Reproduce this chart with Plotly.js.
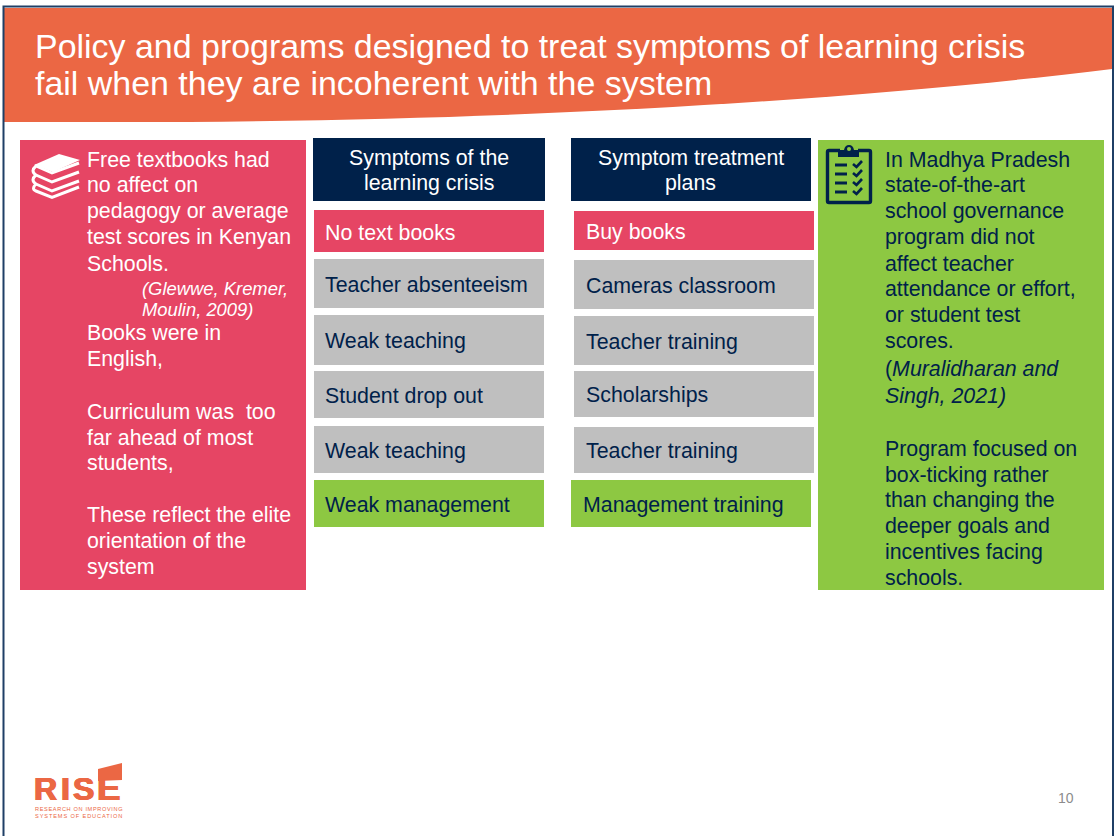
<!DOCTYPE html>
<html>
<head>
<meta charset="utf-8">
<script src="https://cdn.plot.ly/plotly-3.0.1.min.js"></script>
<style>html,body{margin:0;padding:0;background:#fff;overflow:hidden}#g{width:1115px;height:836px}</style>
</head>
<body>
<div id="g"></div>
<script>
const titleLines = ["Policy and programs designed to treat symptoms of learning crisis", "fail when they are incoherent with the system"];
const symptomHeader = ["Symptoms of the", "learning crisis"];
const treatmentHeader = ["Symptom treatment", "plans"];
const symptoms = ["No text books", "Teacher absenteeism", "Weak teaching", "Student drop out", "Weak teaching", "Weak management"];
const treatments = ["Buy books", "Cameras classroom", "Teacher training", "Scholarships", "Teacher training", "Management training"];
const leftText = ["Free textbooks had", "no affect on", "pedagogy or average", "test scores in Kenyan", "Schools.", "(Glewwe, Kremer,", "Moulin, 2009)", "Books were in", "English,", "Curriculum was  too", "far ahead of most", "students,", "These reflect the elite", "orientation of the", "system"];
const rightText = ["In Madhya Pradesh", "state-of-the-art", "school governance", "program did not", "affect teacher", "attendance or effort,", "or student test", "scores.", "(<i>Muralidharan and</i>", "<i>Singh, 2021)</i>", "Program focused on", "box-ticking rather", "than changing the", "deeper goals and", "incentives facing", "schools."];
const logoLetters = ["R", "I", "S", "E"];
const logoTagline = ["RESEARCH ON IMPROVING", "SYSTEMS OF EDUCATION"];
const pageNumber = "10";

const ORANGE = "#EB6744", PINK = "#E64564", NAVY = "#00214A", GREY = "#BFBFBF", GREEN = "#8DC842";
const FONT = "Liberation Sans, Arial, sans-serif";

const shapes = [];
const annotations = [];
function rect(x0, y0, x1, y1, color) {
  shapes.push({type: "rect", xref: "x", yref: "y", x0, y0, x1, y1, fillcolor: color, line: {width: 0}, layer: "below"});
}
function path(d, fill, stroke, w) {
  shapes.push({type: "path", xref: "x", yref: "y", path: d, fillcolor: fill || "rgba(0,0,0,0)",
    line: stroke ? {color: stroke, width: w} : {width: 0}, layer: "below"});
}
function text(x, y, t, size, color, anchor, fontExtra) {
  annotations.push({xref: "x", yref: "y", x, y, text: t, showarrow: false, xanchor: anchor || "left",
    yanchor: "middle", borderpad: 0, font: Object.assign({family: FONT, size, color}, fontExtra || {})});
}

// slide frame and title banner
path("M4 8 L1112 8 L1112 69 C900 95 560 122 120 122 L4 122 Z", ORANGE);
path("M3.5 836 L3.5 6.5 L1113 6.5 L1113 836", null, "#1F3F66", 2);
text(34, 46, titleLines[0], 33.95, "#FFFFFF");
text(34, 83, titleLines[1], 33.95, "#FFFFFF");

// side panels
rect(20, 140, 306, 590, PINK);
rect(818, 140, 1104, 590, GREEN);
const leftY = [160, 185, 211, 237, 264, 288, 309, 333, 359, 412, 438, 463, 515, 541, 567];
leftText.forEach((t, i) => {
  if (i === 5 || i === 6) text(140.5, leftY[i], "<i>" + t + "</i>", 18.4, "#FFFFFF");
  else text(85.5, leftY[i], t, 21.35, "#FFFFFF");
});
const rightY = [160, 185, 211, 237, 264, 289, 315, 341, 369, 396, 449, 475, 500, 526, 552, 578];
rightText.forEach((t, i) => text(883.5, rightY[i], t, 21.35, NAVY));

// headers
rect(313, 138, 545, 201, NAVY);
rect(571, 138, 811, 201, NAVY);
text(428.5, 158, symptomHeader[0], 21.35, "#FFFFFF", "center");
text(428.5, 183, symptomHeader[1], 21.35, "#FFFFFF", "center");
text(690.5, 158, treatmentHeader[0], 21.35, "#FFFFFF", "center");
text(690.5, 183, treatmentHeader[1], 21.35, "#FFFFFF", "center");

// symptom and treatment rows
const rowColors = [PINK, GREY, GREY, GREY, GREY, GREEN];
const rowTextColors = ["#FFFFFF", NAVY, NAVY, NAVY, NAVY, NAVY];
const symTop = [210, 259, 315, 371, 426, 480], symBottom = [252, 308, 365, 418, 473, 527];
const trtTop = [211, 260, 316, 371, 427, 480], trtBottom = [250, 309, 365, 417, 473, 527];
const trtLeft = [574, 574, 574, 574, 574, 571], trtRight = [814, 814, 814, 814, 814, 811];
symptoms.forEach((t, i) => {
  rect(314, symTop[i], 544, symBottom[i], rowColors[i]);
  text(324, (symTop[i] + symBottom[i]) / 2 + (i === 0 ? 2 : 1), t, 21.35, rowTextColors[i]);
});
treatments.forEach((t, i) => {
  rect(trtLeft[i], trtTop[i], trtRight[i], trtBottom[i], rowColors[i]);
  text(trtLeft[i] + 10.5, (trtTop[i] + trtBottom[i]) / 2 + 1, t, 21.35, rowTextColors[i]);
});

// book stack icon
path("M34 165 L59 154 L80 160 L53 172 Z", "#FFFFFF");
path("M79 163 L52 173 L36 166 Q30 171 36 175 L52 182 L79 172", null, "#FFFFFF", 3);
path("M36 175 Q30 180 36 184 L52 191 L79 181", null, "#FFFFFF", 3);
path("M36 184 Q31 189 36 191 L52 197.5 L79 187", null, "#FFFFFF", 3);

// clipboard icon
path("M840 150.5 L829 150.5 Q827.5 150.5 827.5 152 L827.5 201 Q827.5 202.5 829 202.5 L869 202.5 Q870.5 202.5 870.5 201 L870.5 152 Q870.5 150.5 869 150.5 L858 150.5", null, NAVY, 3.4);
path("M838 157 L838 150 L844 150 Q845 145 849 145 Q853 145 854 150 L859 150 L859 157 Z", NAVY);
shapes.push({type: "circle", xref: "x", yref: "y", x0: 847, y0: 147, x1: 851, y1: 151, fillcolor: GREEN, line: {width: 0}, layer: "below"});
[165, 174, 183, 192].forEach(y => {
  path(`M835 ${y} L847 ${y}`, null, NAVY, 3);
  path(`M853 ${y - 1} L856.5 ${y + 2} L862 ${y - 4}`, null, NAVY, 2.6);
});

// RISE logo
const logoX = [33, 60, 71.5, 95.5];
const logoY = [788.5, 788.5, 788.5, 787.4];
const logoSize = [32, 32, 32, 35];
const logoBold = {weight: 700, shadow: "0.7px 0 0 #EB6744, -0.7px 0 0 #EB6744, 0 0.4px 0 #EB6744"};
logoLetters.forEach((t, i) => text(logoX[i], logoY[i], t, logoSize[i], ORANGE, "left", logoBold));
path("M98 769 L122 763 L122 780 L98 781 Z", ORANGE);
text(33.5, 808.5, '<span style="letter-spacing:0.65px">' + logoTagline[0] + "</span>", 5.6, ORANGE);
text(33.5, 816, '<span style="letter-spacing:0.9px">' + logoTagline[1] + "</span>", 5.6, ORANGE);

// page number
text(1066, 798, pageNumber, 14, "#8C8C8C", "center");

Plotly.newPlot("g", [], {
  width: 1115, height: 836,
  margin: {l: 0, r: 0, t: 0, b: 0},
  paper_bgcolor: "#FFFFFF", plot_bgcolor: "#FFFFFF",
  xaxis: {range: [0, 1115], visible: false, fixedrange: true},
  yaxis: {range: [836, 0], visible: false, fixedrange: true},
  showlegend: false, shapes, annotations
}, {displayModeBar: false, staticPlot: true});
</script>
</body>
</html>
